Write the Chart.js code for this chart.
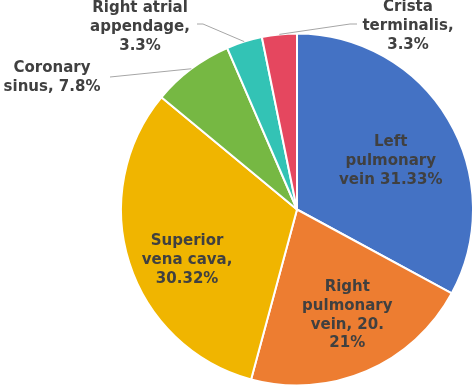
<!DOCTYPE html>
<html>
<head>
<meta charset="utf-8">
<script src="https://cdn.jsdelivr.net/npm/chart.js@4/dist/chart.umd.min.js"></script>
<style>
html,body{margin:0;padding:0;background:#fff;}
#wrap{width:474px;height:387px;position:relative;}
</style>
</head>
<body>
<div id="wrap"><canvas id="c" width="474" height="387"></canvas></div>
<script>
const categories = ["Left pulmonary vein", "Right pulmonary vein", "Superior vena cava", "Coronary sinus", "Right atrial appendage", "Crista terminalis"];
const values = [32.9, 21.3, 31.8, 7.5, 3.3, 3.2];
const labelTexts = [
  ["Left", "pulmonary", "vein 31.33%"],
  ["Right", "pulmonary", "vein, 20.", "21%"],
  ["Superior", "vena cava,", "30.32%"],
  ["Coronary", "sinus, 7.8%"],
  ["Right atrial", "appendage,", "3.3%"],
  ["Crista", "terminalis,", "3.3%"]
];

// ---- style ----
const colors = ["#4472C4", "#ED7D31", "#F0B500", "#76B843", "#33C3B5", "#E5475F"];
const FONT = "bold 15px 'DejaVu Sans', Verdana, sans-serif";
const LINE_H = 19;
// inside labels: radius fraction + angle offset (deg); outside: text centre + leader path
const labelLayout = [
  {inside: true, rf: 0.60, da: 3.4},
  {inside: true, rf: 0.666, da: -2.2, lh: 18.7},
  {inside: true, rf: 0.6875, da: -7.1},
  {inside: false, tx: 52, ty: 68, path: [[110, 77]]},
  {inside: false, tx: 140, ty: 8, path: [[203, 24], [197, 24]]},
  {inside: false, tx: 408, ty: 7, path: [[350, 24], [357, 24]]}
];

const labelPlugin = {
  id: 'sliceLabels',
  afterDatasetsDraw(chart) {
    const ctx = chart.ctx;
    const meta = chart.getDatasetMeta(0);
    ctx.save();
    ctx.font = FONT;
    ctx.textAlign = 'center';
    ctx.textBaseline = 'middle';
    meta.data.forEach((arc, i) => {
      const p = arc.getProps(['x', 'y', 'startAngle', 'endAngle', 'outerRadius'], true);
      const mid = (p.startAngle + p.endAngle) / 2;
      const lay = labelLayout[i];
      const lines = labelTexts[i];
      if (lay.inside) {
        const a = mid + lay.da * Math.PI / 180;
        const lh = lay.lh || LINE_H;
        const cx = p.x + Math.cos(a) * p.outerRadius * lay.rf;
        const cy = p.y + Math.sin(a) * p.outerRadius * lay.rf;
        const y0 = cy - (lines.length - 1) * lh / 2;
        ctx.fillStyle = '#404040';
        lines.forEach((t, k) => ctx.fillText(t, cx, y0 + k * lh));
      } else {
        const ex = p.x + Math.cos(mid) * p.outerRadius;
        const ey = p.y + Math.sin(mid) * p.outerRadius;
        ctx.strokeStyle = '#A6A6A6';
        ctx.lineWidth = 1;
        ctx.beginPath();
        ctx.moveTo(ex, ey);
        lay.path.forEach(pt => ctx.lineTo(pt[0], pt[1]));
        ctx.stroke();
        ctx.fillStyle = '#404040';
        lines.forEach((t, k) => ctx.fillText(t, lay.tx, lay.ty + k * LINE_H));
      }
    });
    ctx.restore();
  }
};

new Chart(document.getElementById('c'), {
  type: 'pie',
  data: {
    labels: categories,
    datasets: [{
      data: values,
      backgroundColor: colors,
      borderColor: '#ffffff',
      borderWidth: 2
    }]
  },
  options: {
    responsive: false,
    animation: false,
    layout: {padding: {left: 120, right: 0, top: 32, bottom: 0}},
    plugins: {
      legend: {display: false},
      tooltip: {enabled: false}
    }
  },
  plugins: [labelPlugin]
});
</script>
</body>
</html>
